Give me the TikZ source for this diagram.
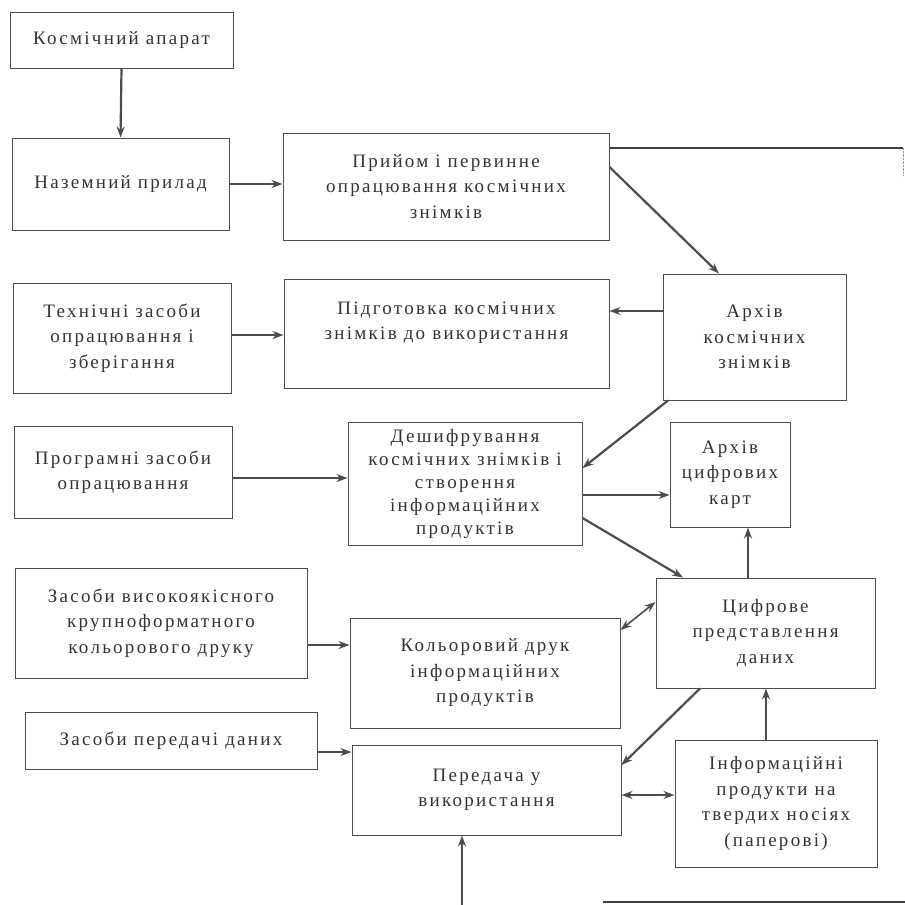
\documentclass[tikz,border=0pt]{standalone}
\usepackage{fontspec}
\setmainfont[LetterSpace=12]{Liberation Serif}
\usepackage{tikz}
\usetikzlibrary{arrows.meta}

\begin{document}
\begin{tikzpicture}[
  x=1pt, y=-1pt,
  font=\fontsize{19}{25.5}\selectfont, >={Stealth[length=11pt,width=8pt]},
  box/.style={draw=black!70, line width=1pt, align=center, inner sep=2pt, text=black!80},
  arr/.style={->, draw=black!70, line width=2.2pt},
  arrs/.style={<->, draw=black!70, line width=1.6pt},
  link/.style={draw=black!75, line width=1.2pt}]
\useasboundingbox (0,0) rectangle (905,905);
% left column
\node[box, minimum width=223pt, minimum height=56pt] (kos) at (121.5,40) {Космічний апарат};
\node[box, minimum width=217pt, minimum height=92pt] (naz) at (120.5,184) {Наземний прилад};
\node[box, minimum width=218pt, minimum height=110pt] (tekh) at (122,338) {Технічні засоби\\опрацювання і\\зберігання};
\node[box, minimum width=218pt, minimum height=92pt] (prog) at (123,472) {Програмні засоби\\опрацювання};
\node[box, minimum width=292pt, minimum height=110pt] (vys) at (161,623) {Засоби високоякісного\\крупноформатного\\кольорового друку};
\node[box, minimum width=292pt, minimum height=57pt] (zasp) at (171,740.5) {Засоби передачі даних};
% middle column
\node[box, minimum width=326pt, minimum height=107pt] (pryi) at (446,186.5) {Прийом і первинне\\опрацювання космічних\\знімків};
\node[box, minimum width=325pt, minimum height=109pt] (pidg) at (446.5,333.5) {Підготовка космічних\\знімків до використання\\\mbox{}};
\node[box, minimum width=234pt, minimum height=123pt, font=\fontsize{19}{23}\selectfont] (desh) at (465,483.5) {Дешифрування\\космічних знімків і\\створення\\інформаційних\\продуктів};
\node[box, minimum width=270pt, minimum height=110pt] (kol) at (485,673) {Кольоровий друк\\інформаційних\\продуктів};
\node[box, minimum width=269pt, minimum height=90pt] (pered) at (486.5,790) {Передача у\\використання};
% right column
\node[box, minimum width=183pt, minimum height=126pt] (arkhk) at (754.5,337) {Архів\\космічних\\знімків};
\node[box, minimum width=120pt, minimum height=105pt] (arkhc) at (730,474.5) {Архів\\цифрових\\карт};
\node[box, minimum width=219pt, minimum height=110pt] (tsyf) at (765.5,633) {Цифрове\\представлення\\даних};
\node[box, minimum width=202pt, minimum height=127pt] (inf) at (776,803.5) {Інформаційні\\продукти на\\твердих носіях\\(паперові)};
% free ends
\coordinate (rim) at (903,148);
\coordinate (src) at (462,905);
\coordinate (botl) at (603,902);
\coordinate (botr) at (905,902);
% arrows
\draw[arr] (kos.south) -- (naz.north);
\draw[arr] (naz.east) -- (naz.east -| pryi.west);
\draw[link] (pryi.east |- 0,148) -- (rim);
\draw[black!40, densely dotted] (rim) -- ++(0,28);
\draw[arr] (pryi.east |- 0,167) -- (arkhk.north -| 719,0);
\draw[arr] (arkhk.west |- 0,311) -- (pidg.east |- 0,311);
\draw[arr] (tekh.east |- 0,335) -- (pidg.west |- 0,335);
\draw[arr] (arkhk.south -| 668,0) -- (desh.east |- 0,468);
\draw[arr] (prog.east |- 0,478) -- (desh.west |- 0,478);
\draw[arr] (desh.east |- 0,495) -- (arkhc.west |- 0,495);
\draw[arr] (desh.east |- 0,518) -- (tsyf.north -| 683,0);
\draw[arr] (tsyf.north -| 748,0) -- (arkhc.south -| 748,0);
\draw[arr] (vys.east |- 0,645) -- (kol.west |- 0,645);
\draw[arrs] (kol.east |- 0,630) -- (tsyf.west |- 0,602);
\draw[arr] (tsyf.south -| 700,0) -- (pered.east |- 0,765);
\draw[arr] (inf.north -| 766,0) -- (tsyf.south -| 766,0);
\draw[arr] (zasp.east |- 0,752) -- (pered.west |- 0,752);
\draw[arrs] (pered.east |- 0,795) -- (inf.west |- 0,795);
\draw[arr] (src) -- (pered.south -| src);
\draw[link] (botl) -- (botr);
\end{tikzpicture}
\end{document}
